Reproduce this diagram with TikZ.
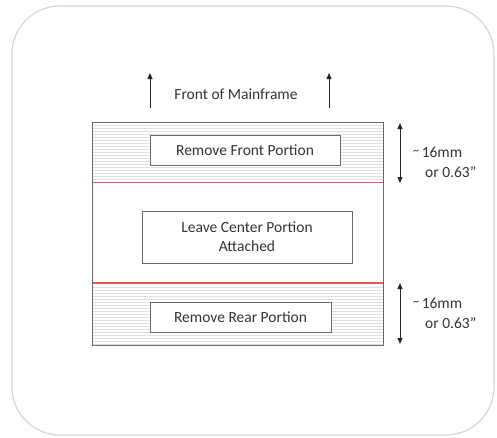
\documentclass[tikz,border=0pt]{standalone}
\usepackage{fontspec}
\setmainfont{Carlito}
\usetikzlibrary{arrows.meta}
\definecolor{frame}{HTML}{D4D4D4}
\definecolor{edge}{HTML}{6A6A6A}
\definecolor{cutline}{HTML}{E05A5A}
\definecolor{hatch}{HTML}{E0E0E0}
\tikzset{
  labelbox/.style={draw=edge, line width=0.9pt, fill=white, font=\fontsize{15.5}{17}\selectfont, text=black!80, align=center, inner sep=0pt},
  plainlabel/.style={font=\fontsize{15.5}{17}\selectfont, text=black!80, align=left, inner sep=0pt},
  uparrow/.style={-{Triangle[length=6pt,width=5pt]}, line width=0.8pt, black!85},
  dimarrow/.style={{Triangle[length=6pt,width=5pt]}-{Triangle[length=6pt,width=5pt]}, line width=0.8pt, black!85},
  cut/.style={cutline, line width=1.3pt},
}
\newcommand{\approxmark}{\raisebox{3pt}{\fontsize{12}{13}\selectfont\textasciitilde}}
\begin{document}
\begin{tikzpicture}[x=1pt,y=-1pt]
  \useasboundingbox (0,0) rectangle (497,437);
  % outer panel
  \draw[frame, line width=1.2pt, rounded corners=48pt] (12,6) rectangle (494,435);

  % direction arrows and heading
  \coordinate (la0) at (150,108); \coordinate (la1) at (150,73);
  \coordinate (ra0) at (329,108); \coordinate (ra1) at (329,73);
  \draw[uparrow] (la0) -- (la1);
  \draw[uparrow] (ra0) -- (ra1);
  \node[plainlabel] (front) at (236,94) {Front of Mainframe};

  % hatched bands
  \foreach \y in {125,128,...,180} \draw[hatch, line width=0.5pt] (92,\y) -- (383,\y);
  \foreach \y in {287,290,...,344} \draw[hatch, line width=0.5pt] (92,\y) -- (383,\y);

  % main sheet and cut lines
  \node[draw=edge, line width=1pt, minimum width=291pt, minimum height=223pt, inner sep=0pt] (sheet) at (237.5,233.5) {};
  \coordinate (c1l) at (92.5,182.5); \coordinate (c1r) at (382.5,182.5);
  \coordinate (c2l) at (92.5,283); \coordinate (c2r) at (382.5,283);
  \draw[cut] (c1l) -- (c1r);
  \draw[cut] (c2l) -- (c2r);

  % portion labels
  \node[labelbox, minimum width=190pt, minimum height=30pt] (frontp) at (245,150) {Remove Front Portion};
  \node[labelbox, minimum width=210pt, minimum height=52pt] (centerp) at (247,237) {Leave Center Portion\\[2pt]Attached};
  \node[labelbox, minimum width=181pt, minimum height=30pt] (rearp) at (240.5,317) {Remove Rear Portion};

  % dimensions
  \coordinate (d1a) at (400,123); \coordinate (d1b) at (400,183);
  \coordinate (d2a) at (400,283); \coordinate (d2b) at (400,344);
  \draw[dimarrow] (d1a) -- (d1b);
  \draw[dimarrow] (d2a) -- (d2b);
  \node[plainlabel, anchor=west] (dim1a) at (413,152) {\approxmark\,16mm};
  \node[plainlabel, anchor=west] (dim1b) at (425,172) {or 0.63”};
  \node[plainlabel, anchor=west] (dim2a) at (413,303) {\approxmark\,16mm};
  \node[plainlabel, anchor=west] (dim2b) at (425,323) {or 0.63”};
\end{tikzpicture}
\end{document}
